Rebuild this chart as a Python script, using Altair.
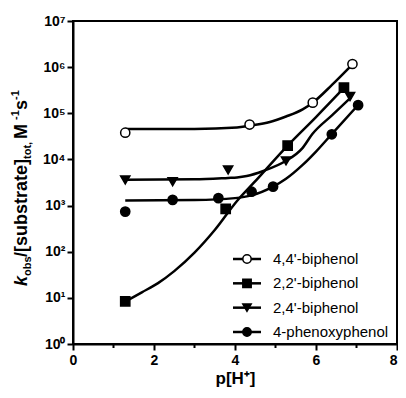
import altair as alt
import pandas as pd

series = ["4,4'-biphenol", "2,2'-biphenol", "2,4'-biphenol", "4-phenoxyphenol"]
shapes = ["circle", "square", "triangle-down", "circle"]
fills = ["white", "black", "black", "black"]

# measured points
ph_44 = [1.29, 4.36, 5.92, 6.90]
k_44 = [3.8e4, 5.7e4, 1.7e5, 1.17e6]
ph_22 = [1.29, 3.77, 5.30, 6.69]
k_22 = [8.4, 850, 2.0e4, 3.6e5]
ph_24 = [1.29, 2.46, 3.83, 5.26, 6.84]
k_24 = [3.6e3, 3.3e3, 5.9e3, 9.3e3, 2.3e5]
ph_pp = [1.29, 2.46, 3.59, 4.41, 4.94, 6.39, 7.04]
k_pp = [740, 1330, 1450, 2000, 2570, 3.5e4, 1.5e5]

# fitted curves
fit_ph_44 = [1.29, 3.0, 4.05, 4.36, 4.86, 5.26, 5.67, 5.92, 6.4, 6.9]
fit_k_44 = [4.57e4, 4.57e4, 4.9e4, 5.37e4, 6.46e4, 8.51e4, 1.22e5, 1.70e5, 4.17e5, 1.15e6]
fit_ph_22 = [1.29, 1.7, 2.1, 2.5, 3.0, 3.5, 4.05, 4.46, 5.30, 6.0, 6.69]
fit_k_22 = [8.3, 13.2, 20.9, 38.0, 95.5, 295, 1260, 3090, 2.0e4, 8.3e4, 3.55e5]
fit_ph_24 = [1.29, 3.0, 3.83, 4.05, 4.29, 4.70, 5.26, 5.66, 5.91, 6.4, 6.86]
fit_k_24 = [3630, 3720, 3980, 4070, 4370, 5620, 9330, 1.74e4, 3.55e4, 9.12e4, 2.19e5]
fit_ph_pp = [1.29, 3.0, 4.0, 4.41, 4.94, 5.26, 5.67, 6.0, 6.39, 7.04]
fit_k_pp = [1290, 1320, 1450, 1660, 2570, 3800, 7590, 1.48e4, 3.55e4, 1.51e5]

x_ticks = [0, 2, 4, 6, 8]
x_minor = [1, 3, 5, 7]
y_ticks = [1, 10, 100, 1e3, 1e4, 1e5, 1e6, 1e7]

FONT = "Liberation Sans"
W, H = 324, 323

pts = pd.concat([
    pd.DataFrame({"ph": p, "k": k, "s": s})
    for p, k, s in [(ph_44, k_44, series[0]), (ph_22, k_22, series[1]),
                    (ph_24, k_24, series[2]), (ph_pp, k_pp, series[3])]
])
fits = pd.concat([
    pd.DataFrame({"ph": p, "k": k, "s": s})
    for p, k, s in [(fit_ph_44, fit_k_44, series[0]), (fit_ph_22, fit_k_22, series[1]),
                    (fit_ph_24, fit_k_24, series[2]), (fit_ph_pp, fit_k_pp, series[3])]
])
leg = pd.DataFrame({"s": series, "idx": list(range(len(series)))})
minor = pd.DataFrame({"x": x_minor})

xscale = alt.Scale(domain=[0, 8], nice=False)
yscale = alt.Scale(type="log", domain=[1, 1e7], nice=False)
shape_enc = alt.Shape("s:N", scale=alt.Scale(domain=series, range=shapes), legend=None)
fill_enc = alt.Fill("s:N", scale=alt.Scale(domain=series, range=fills), legend=None)

xaxis = alt.Axis(values=x_ticks, title="p[H⁺]", grid=False, labelFontWeight="bold",
                 labelFontSize=14, labelFont=FONT, titleFont=FONT, titleFontSize=17,
                 titleFontWeight="bold", titlePadding=3, labelPadding=3,
                 labelFlush=False,
                 labelAlign={"condition": {"test": "datum.value == 8", "value": "right"},
                             "value": "center"})
yaxis = alt.Axis(values=y_ticks, title=None, grid=False, labelFontWeight="bold",
                 labelFontSize=14, labelFont=FONT, labelPadding=2,
                 labelExpr="'10' + ['⁰','¹','²','³','⁴','⁵','⁶','⁷'][round(log(datum.value)/LN10)]")

X = alt.X("ph:Q", scale=xscale, axis=xaxis)

lines = alt.Chart(fits).mark_line(interpolate="monotone", color="black", strokeWidth=2.5).encode(
    x=X,
    y=alt.Y("k:Q", scale=yscale, axis=yaxis),
    detail="s:N",
)
points = alt.Chart(pts).mark_point(stroke="black", strokeWidth=1.5, opacity=1, filled=False, size=85).encode(
    x=X,
    y=alt.Y("k:Q", scale=yscale, axis=None),
    shape=shape_enc,
    fill=fill_enc,
)
minor_ticks = alt.Chart(minor).mark_rule(color="black", strokeWidth=2).encode(
    x=alt.X("x:Q", scale=xscale, axis=xaxis),
    y=alt.value(H),
    y2=alt.value(H + 4),
)

leg_y = alt.Y("idx:Q", scale=alt.Scale(domain=[0, 3], range=[238, 311]), axis=None)
leg_line = alt.Chart(leg).mark_rule(color="black", strokeWidth=2.5).encode(
    x=alt.value(160), x2=alt.value(188), y=leg_y)
leg_pt = alt.Chart(leg).mark_point(stroke="black", strokeWidth=1.5, opacity=1, size=70).encode(
    x=alt.value(174), y=leg_y, shape=shape_enc, fill=fill_enc)
leg_txt = alt.Chart(leg).mark_text(align="left", baseline="middle", font=FONT, fontSize=15,
                                   color="black").encode(
    x=alt.value(200), y=leg_y, text="s:N")

# composite rotated y-axis title
title_parts = [
    ("k", 18, "bold", "italic", -45.7, 10),
    ("obs", 11, "bold", "normal", -42.5, 19),
    ("/[substrate]", 18, "bold", "normal", -45.7, 98),
    ("tot,", 11, "bold", "normal", -42.5, 20),
    (" M", 18, "bold", "normal", -45.7, 19),
    ("-1", 11, "bold", "normal", -54.0, 10),
    ("s", 18, "bold", "normal", -45.7, 10),
    ("-1", 11, "bold", "normal", -54.0, 11),
]
title_layers = []
ypos = 265
for txt, fs, fw, fst, xo, wdt in title_parts:
    title_layers.append(
        alt.Chart(leg.head(1)).mark_text(text=txt, angle=270, align="left", baseline="alphabetic",
                                         font=FONT, fontSize=fs, fontWeight=fw, fontStyle=fst,
                                         color="black").encode(x=alt.value(xo), y=alt.value(ypos))
    )
    ypos -= wdt

chart = alt.layer(lines, points, minor_ticks, leg_line, leg_pt, leg_txt, *title_layers).resolve_scale(
    y="independent"
).properties(
    width=W, height=H,
    autosize=alt.AutoSizeParams(type="none"),
    padding={"left": 65, "top": 13, "right": 1, "bottom": 46},
).configure_view(
    stroke="black", strokeWidth=2
).configure_axis(
    domainColor="black", domainWidth=2, tickColor="black", tickWidth=2, tickSize=6,
    labelColor="black", titleColor="black"
)

chart.save("out.html", embed_options={"renderer": "svg", "actions": False})
